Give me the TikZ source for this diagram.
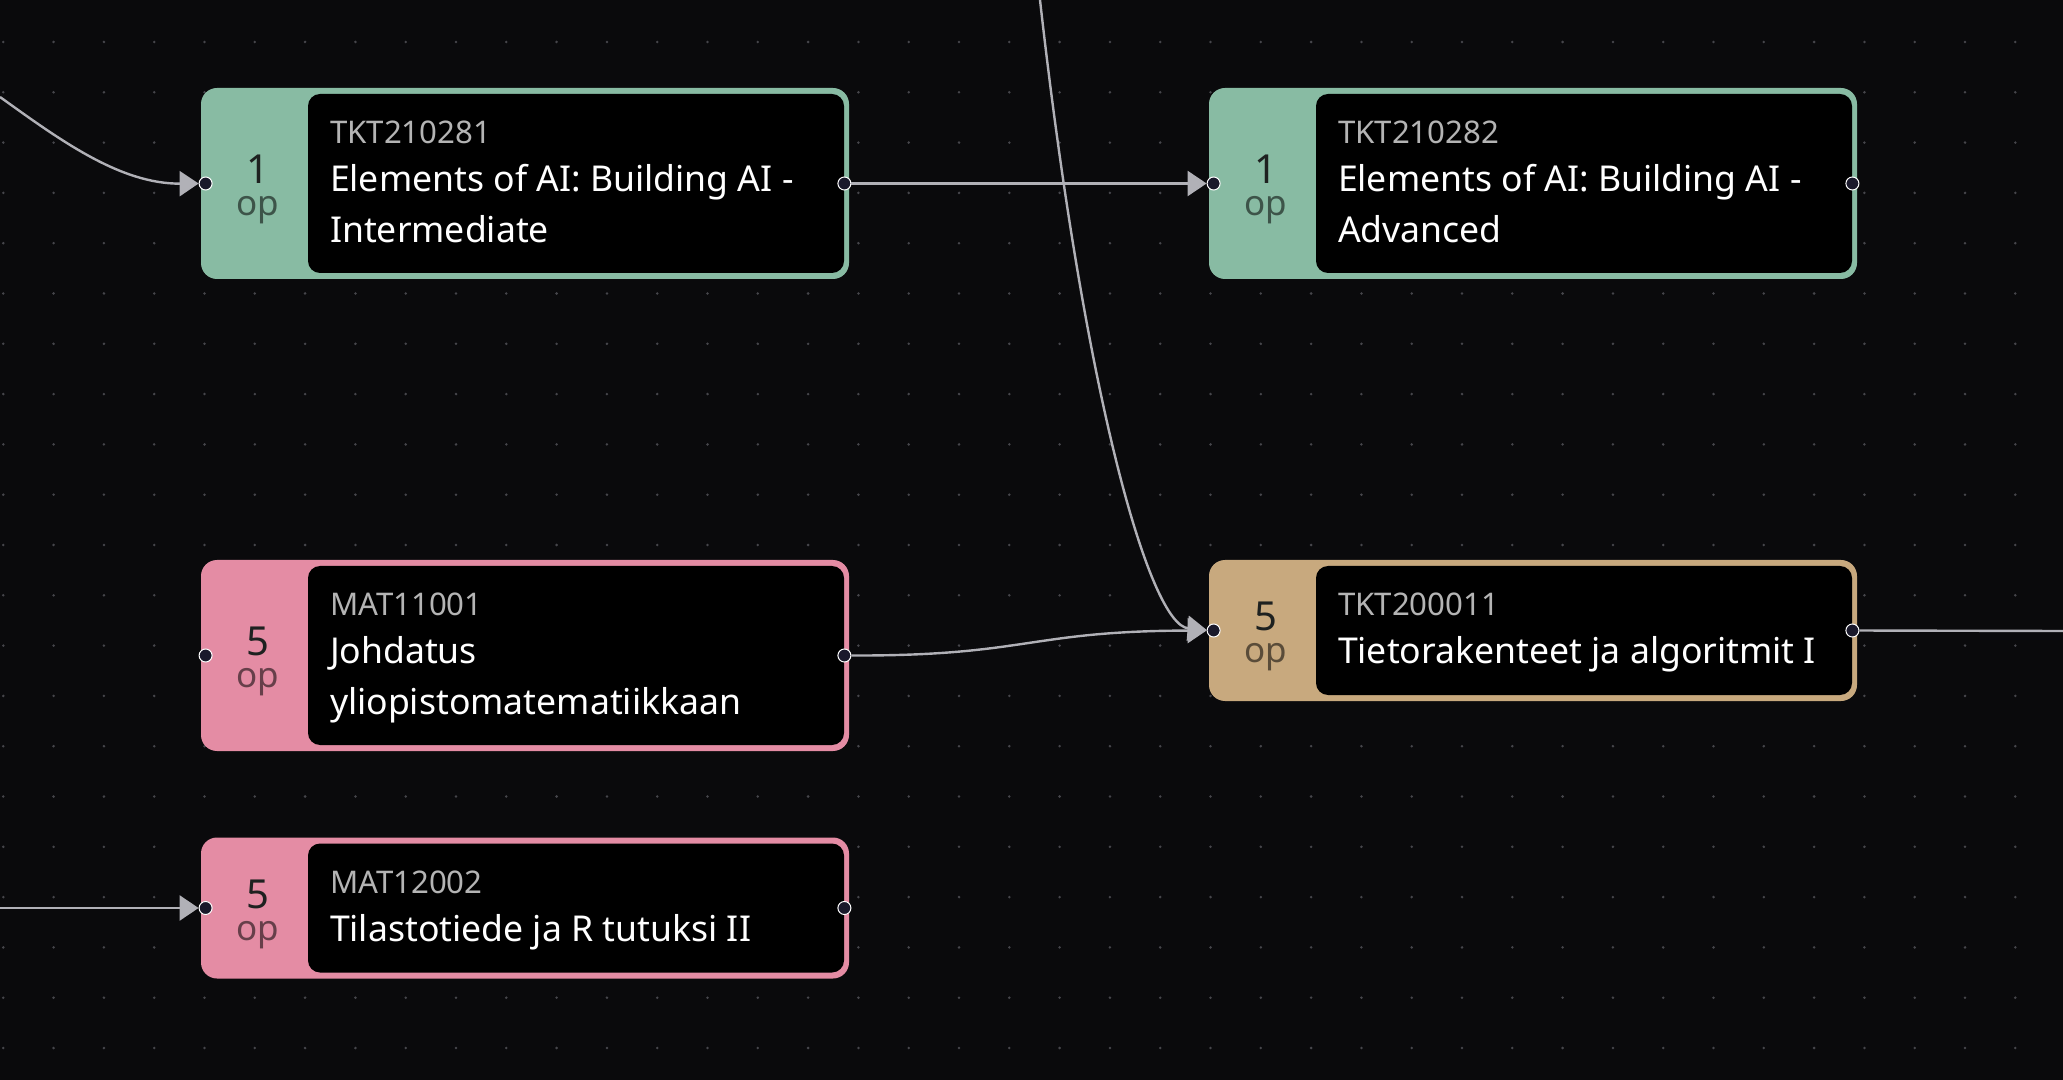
\documentclass[tikz,border=0pt]{standalone}
\usepackage{fontspec}
\setmainfont{Noto Sans}
\usetikzlibrary{arrows.meta}

\definecolor{canvas}{HTML}{0A0A0C}
\definecolor{griddot}{HTML}{46464B}
\definecolor{aigreen}{HTML}{88BBA3}
\definecolor{matpink}{HTML}{E48CA4}
\definecolor{tkttan}{HTML}{C8A97E}
\definecolor{edgegrey}{HTML}{B1B1B7}
\definecolor{handle}{HTML}{1A192B}
\definecolor{codegrey}{HTML}{B4B4B4}
\definecolor{numdark}{HTML}{1E2120}

\begin{document}
\begin{tikzpicture}[x=0.5pt, y=-0.5pt,
    box/.style={rectangle, rounded corners=8pt, minimum width=324pt, inner sep=0pt},
    panel/.style={rectangle, rounded corners=6pt, fill=black, minimum width=268pt, inner sep=0pt, anchor=east},
    num/.style={anchor=base, text=numdark, inner sep=0pt, font=\fontsize{20pt}{22pt}\selectfont},
    unit/.style={anchor=base, inner sep=0pt, font=\fontsize{17.5pt}{18pt}\selectfont},
    code/.style={anchor=base west, text=codegrey, inner sep=0pt, font=\fontsize{15.6pt}{18pt}\selectfont},
    title/.style={anchor=base west, text=white, align=left, inner sep=0pt, font=\fontsize{17.8pt}{25.5pt}\selectfont},
    port/.style={circle, fill=handle, draw=white, line width=0.5pt, inner sep=0pt, minimum size=6.5pt},
    edge/.style={draw=edgegrey, line width=1.2pt},
    tip/.style={-{Triangle[length=9.5pt, width=12.5pt]}}]

    % canvas and dot grid
    \fill [canvas] (0, 0) rectangle (2063, 1080);
    \useasboundingbox (0, 0) rectangle (2063, 1080);
    \foreach \i in {0,...,41}
      \foreach \j in {0,...,20}
        \fill [griddot] (3.3+50.3*\i, 42+50.3*\j) circle (0.7pt);

    % TKT210281 (two-line title: base is the last line)
    \node [box, fill=aigreen, minimum height=95.5pt] (ai1) at (525, 183.5) {};
    \node [panel, minimum height=89.5pt] (ai1p) at ([xshift=-2.5pt]ai1.east) {};
    \node [num] (ai1n) at ([xshift=28.5pt]ai1.west) {1};
    \node [unit, text=aigreen!45!black] (ai1u) at ([xshift=28.5pt, yshift=-16pt]ai1.west) {op};
    \node [code] (ai1c) at ([xshift=64.5pt, yshift=-28pt]ai1.north west) {TKT210281};
    \node [title] (ai1t) at ([xshift=64.5pt, yshift=-77.5pt]ai1.north west) {Elements of AI: Building AI -\\Intermediate};
    \node [port] (ai1l) at ([xshift=2.5pt]ai1.west) {};
    \node [port] (ai1r) at ([xshift=-2.5pt]ai1.east) {};

    % TKT210282
    \node [box, fill=aigreen, minimum height=95.5pt] (ai2) at (1533, 183.5) {};
    \node [panel, minimum height=89.5pt] (ai2p) at ([xshift=-2.5pt]ai2.east) {};
    \node [num] (ai2n) at ([xshift=28.5pt]ai2.west) {1};
    \node [unit, text=aigreen!45!black] (ai2u) at ([xshift=28.5pt, yshift=-16pt]ai2.west) {op};
    \node [code] (ai2c) at ([xshift=64.5pt, yshift=-28pt]ai2.north west) {TKT210282};
    \node [title] (ai2t) at ([xshift=64.5pt, yshift=-77.5pt]ai2.north west) {Elements of AI: Building AI -\\Advanced};
    \node [port] (ai2l) at ([xshift=2.5pt]ai2.west) {};
    \node [port] (ai2r) at ([xshift=-2.5pt]ai2.east) {};

    % MAT11001
    \node [box, fill=matpink, minimum height=95.5pt] (mat1) at (525, 655.5) {};
    \node [panel, minimum height=89.5pt] (mat1p) at ([xshift=-2.5pt]mat1.east) {};
    \node [num] (mat1n) at ([xshift=28.5pt]mat1.west) {5};
    \node [unit, text=matpink!45!black] (mat1u) at ([xshift=28.5pt, yshift=-16pt]mat1.west) {op};
    \node [code] (mat1c) at ([xshift=64.5pt, yshift=-28pt]mat1.north west) {MAT11001};
    \node [title] (mat1t) at ([xshift=64.5pt, yshift=-77.5pt]mat1.north west) {Johdatus\\yliopistomatematiikkaan};
    \node [port] (mat1l) at ([xshift=2.5pt]mat1.west) {};
    \node [port] (mat1r) at ([xshift=-2.5pt]mat1.east) {};

    % TKT200011
    \node [box, fill=tkttan, minimum height=70.5pt] (tkt1) at (1533, 630.5) {};
    \node [panel, minimum height=64.5pt] (tkt1p) at ([xshift=-2.5pt]tkt1.east) {};
    \node [num] (tkt1n) at ([xshift=28.5pt]tkt1.west) {5};
    \node [unit, text=tkttan!45!black] (tkt1u) at ([xshift=28.5pt, yshift=-16pt]tkt1.west) {op};
    \node [code] (tkt1c) at ([xshift=64.5pt, yshift=-28pt]tkt1.north west) {TKT200011};
    \node [title] (tkt1t) at ([xshift=64.5pt, yshift=-52pt]tkt1.north west) {Tietorakenteet ja algoritmit I};
    \node [port] (tkt1l) at ([xshift=2.5pt]tkt1.west) {};
    \node [port] (tkt1r) at ([xshift=-2.5pt]tkt1.east) {};

    % MAT12002
    \node [box, fill=matpink, minimum height=70.5pt] (mat2) at (525, 908) {};
    \node [panel, minimum height=64.5pt] (mat2p) at ([xshift=-2.5pt]mat2.east) {};
    \node [num] (mat2n) at ([xshift=28.5pt]mat2.west) {5};
    \node [unit, text=matpink!45!black] (mat2u) at ([xshift=28.5pt, yshift=-16pt]mat2.west) {op};
    \node [code] (mat2c) at ([xshift=64.5pt, yshift=-28pt]mat2.north west) {MAT12002};
    \node [title] (mat2t) at ([xshift=64.5pt, yshift=-52pt]mat2.north west) {Tilastotiede ja R tutuksi II};
    \node [port] (mat2l) at ([xshift=2.5pt]mat2.west) {};
    \node [port] (mat2r) at ([xshift=-2.5pt]mat2.east) {};

    % loose ends at the canvas border
    \coordinate (inA) at (0, 97);
    \coordinate (inB) at (1040, 0);
    \coordinate (inC) at (0, 908);
    \coordinate (outA) at (2063, 631);

    \draw [edge, tip] (inA) .. controls (60, 140) and (120, 184) .. (ai1l);
    \draw [edge, tip] (ai1r) -- (ai2l);
    \draw [edge, tip] (inB) .. controls (1085, 400) and (1150, 625) .. (tkt1l);
    \draw [edge, tip] (mat1r) .. controls (1028, 656) and (1028, 631) .. (tkt1l);
    \draw [edge] (tkt1r) -- (outA);
    \draw [edge, tip] (inC) -- (mat2l);
\end{tikzpicture}
\end{document}
